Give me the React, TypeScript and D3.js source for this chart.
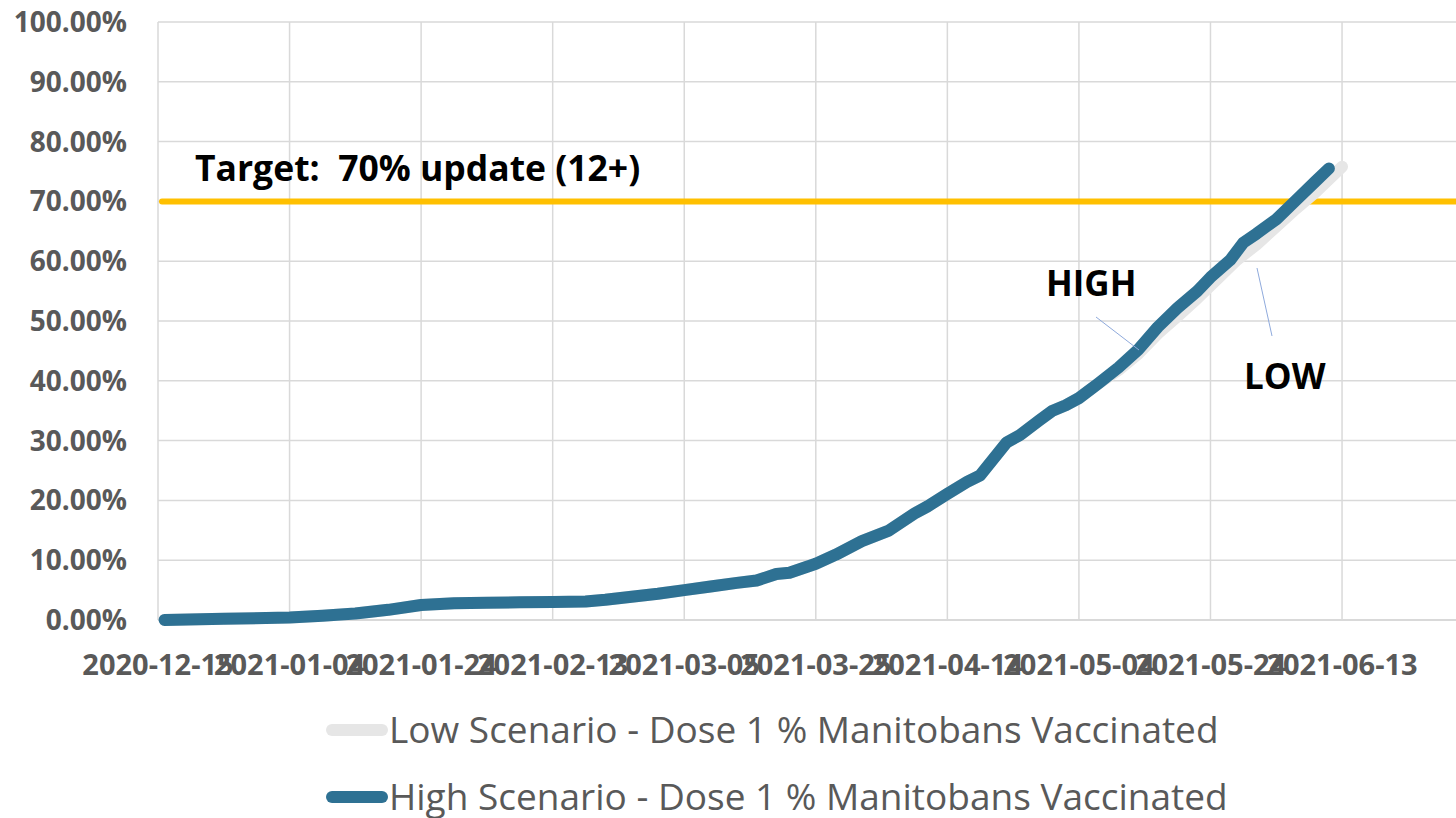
import * as d3 from "d3";

const highDates = [
  "2020-12-16", "2020-12-25", "2021-01-04", "2021-01-09", "2021-01-14", "2021-01-19",
  "2021-01-24", "2021-01-29", "2021-02-03", "2021-02-08", "2021-02-13", "2021-02-18",
  "2021-02-21", "2021-02-25", "2021-03-01", "2021-03-05", "2021-03-09", "2021-03-13",
  "2021-03-16", "2021-03-19", "2021-03-21", "2021-03-25", "2021-03-28", "2021-04-01",
  "2021-04-05", "2021-04-09", "2021-04-11", "2021-04-14", "2021-04-17", "2021-04-19",
  "2021-04-23", "2021-04-25", "2021-04-28", "2021-04-30", "2021-05-02", "2021-05-04",
  "2021-05-07", "2021-05-10", "2021-05-13", "2021-05-16", "2021-05-19", "2021-05-22",
  "2021-05-24", "2021-05-27", "2021-05-29", "2021-05-31", "2021-06-03", "2021-06-06",
  "2021-06-09", "2021-06-11",
];
const highValues = [
  0.0, 0.2, 0.4, 0.7, 1.1, 1.7,
  2.5, 2.8, 2.9, 2.95, 3.0, 3.1,
  3.4, 3.9, 4.4, 5.0, 5.6, 6.2,
  6.6, 7.7, 7.9, 9.4, 10.9, 13.2,
  14.9, 17.8, 19.0, 21.1, 23.1, 24.2,
  29.7, 30.9, 33.4, 35.0, 35.9, 37.1,
  39.6, 42.2, 45.2, 49.0, 52.2, 55.0,
  57.3, 60.2, 63.1, 64.6, 67.0, 70.2,
  73.4, 75.5,
];

// low scenario follows the high one until early May
const lowDates = [
  ...highDates.slice(0, 37),
  "2021-05-10", "2021-05-13", "2021-05-16", "2021-05-19", "2021-05-22", "2021-05-25",
  "2021-05-28", "2021-05-31", "2021-06-03", "2021-06-06", "2021-06-09", "2021-06-13",
];
const lowValues = [
  ...highValues.slice(0, 37),
  41.8, 44.5, 47.9, 50.8, 53.8, 57.0,
  60.2, 62.8, 65.8, 68.8, 71.6, 75.8,
];

const xTicks = [
  "2020-12-15", "2021-01-04", "2021-01-24", "2021-02-13", "2021-03-05",
  "2021-03-25", "2021-04-14", "2021-05-04", "2021-05-24", "2021-06-13",
];
const yTicks = [0, 10, 20, 30, 40, 50, 60, 70, 80, 90, 100];
const target = 70;

const seriesNames = [
  "Low Scenario - Dose 1 % Manitobans Vaccinated",
  "High Scenario - Dose 1 % Manitobans Vaccinated",
];

const W = 1456, H = 818;
const FONT = "'Open Sans', sans-serif";
const LABEL = "#595959";
const GRID = "#d9d9d9";
const HIGH_C = "#2e7193";
const LOW_C = "#e6e6e6";

const parse = d3.utcParse("%Y-%m-%d");

export default function App() {
  const x = d3.scaleUtc()
    .domain([parse("2020-12-15")!, parse("2021-07-01")!])
    .range([158, 158 + 198 * 6.578]);
  const y = d3.scaleLinear().domain([0, 100]).range([620, 22]);

  const line = d3.line<[string, number]>()
    .x(d => x(parse(d[0])!))
    .y(d => y(d[1]));

  const high = d3.zip(highDates, highValues) as [string, number][];
  const low = d3.zip(lowDates, lowValues) as [string, number][];

  return (
    <svg width={W} height={H} style={{ position: "absolute", left: 0, top: 0, background: "#fff" }}>
      {/* gridlines */}
      {yTicks.map(t => (
        <line key={"gy" + t} x1={158} x2={W} y1={y(t)} y2={y(t)} stroke={GRID} strokeWidth={t === 0 ? 2 : 1.5} />
      ))}
      {xTicks.map(t => (
        <line key={"gx" + t} x1={x(parse(t)!)} x2={x(parse(t)!)} y1={y(100)} y2={y(0)} stroke={GRID} strokeWidth={1.5} />
      ))}

      {/* axis labels */}
      {yTicks.map(t => (
        <text key={"ly" + t} x={127} y={y(t) + 10} textAnchor="end" fontFamily={FONT} fontWeight="bold" fontSize={28} fill={LABEL}>
          {d3.format(".2f")(t) + "%"}
        </text>
      ))}
      {xTicks.map(t => (
        <text key={"lx" + t} x={x(parse(t)!)} y={675} textAnchor="middle" fontFamily={FONT} fontWeight="bold" fontSize={29} fill={LABEL}>
          {t}
        </text>
      ))}

      {/* target */}
      <line x1={162} x2={W} y1={y(target)} y2={y(target)} stroke="#ffc000" strokeWidth={6} strokeLinecap="round" />
      <text x={195} y={181} fontFamily={FONT} fontWeight="bold" fontSize={35.5} fill="#000" style={{ whiteSpace: "pre" }}>
        {"Target:  70% update (12+)"}
      </text>

      {/* series */}
      <path d={line(low)!} fill="none" stroke={LOW_C} strokeWidth={12} strokeLinecap="round" strokeLinejoin="round" />
      <path d={line(high)!} fill="none" stroke={HIGH_C} strokeWidth={12} strokeLinecap="round" strokeLinejoin="round" />

      {/* annotations */}
      <line x1={1096} y1={317} x2={1139} y2={350} stroke="#8faadc" strokeWidth={1} />
      <text x={1046} y={296} fontFamily={FONT} fontWeight="bold" fontSize={35} fill="#000">HIGH</text>
      <line x1={1257} y1={268} x2={1272} y2={336} stroke="#8faadc" strokeWidth={1} />
      <text x={1244} y={389} fontFamily={FONT} fontWeight="bold" fontSize={35} fill="#000">LOW</text>

      {/* legend */}
      {seriesNames.map((name, i) => (
        <g key={name} transform={`translate(0, ${730 + i * 67})`}>
          <line x1={332} x2={382} y1={0} y2={0} stroke={i === 0 ? LOW_C : HIGH_C} strokeWidth={12} strokeLinecap="round" />
          <text x={389} y={13} fontFamily={FONT} fontSize={37} fill={LABEL}>{name}</text>
        </g>
      ))}
    </svg>
  );
}
